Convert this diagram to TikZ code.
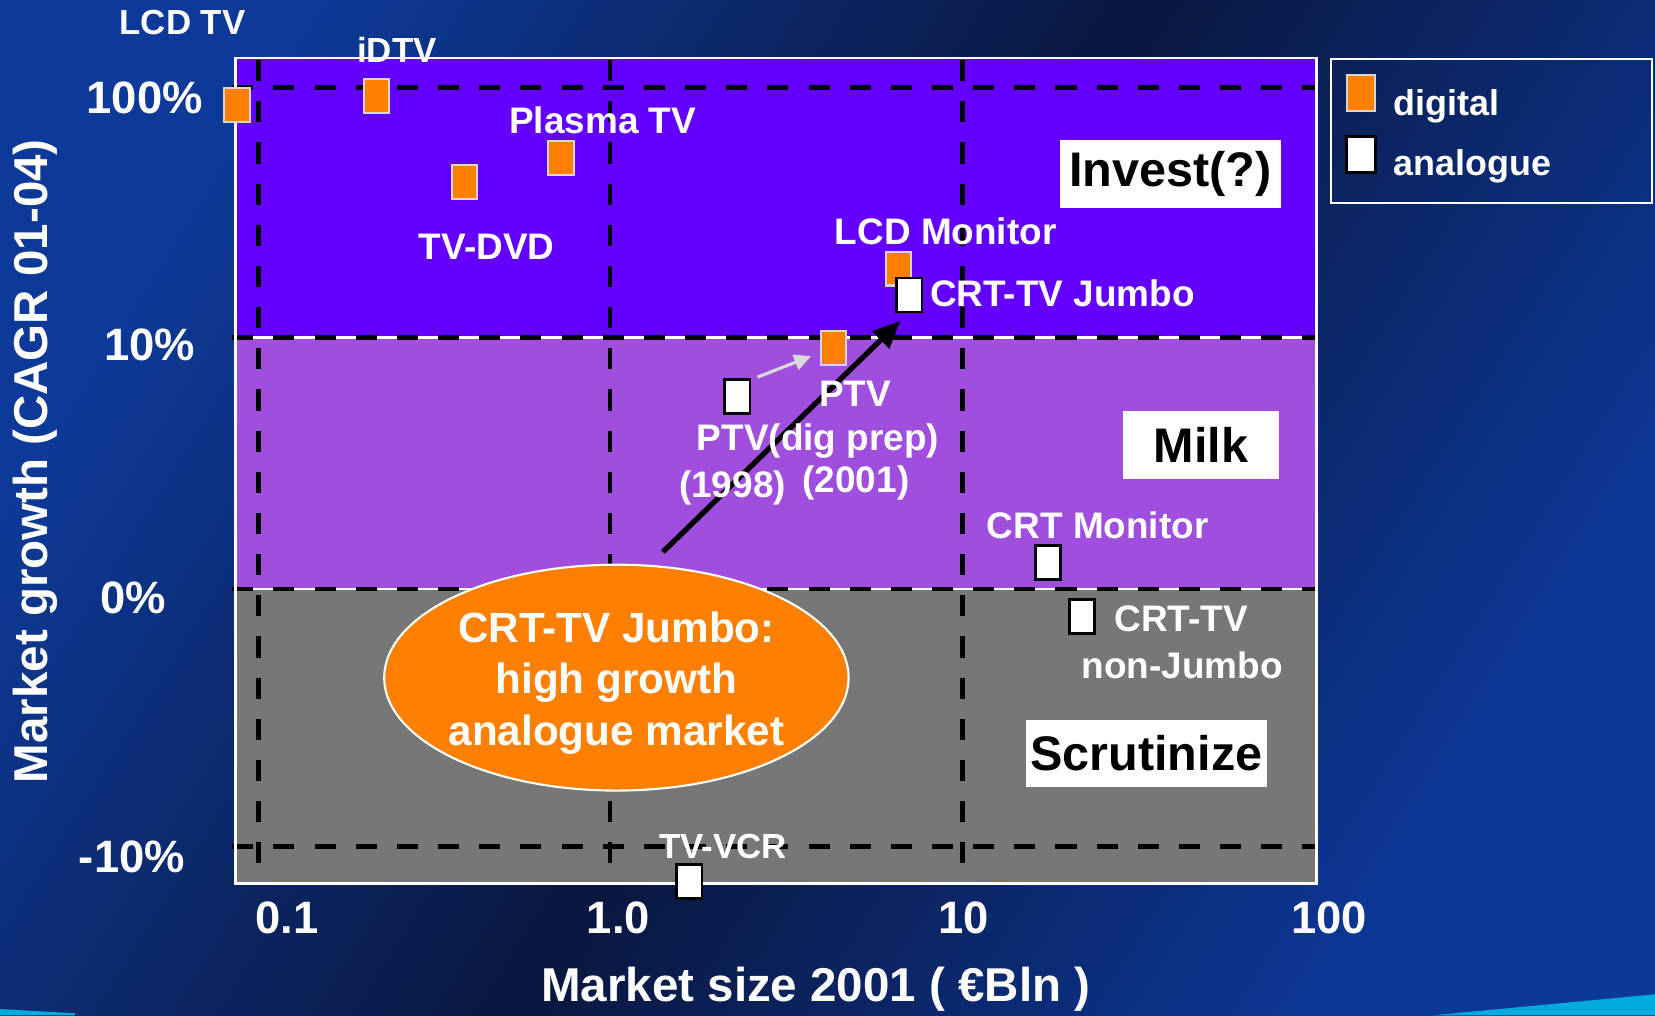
\documentclass[tikz,border=0pt]{standalone}
\usepackage{fontspec}
\setmainfont{Liberation Sans}
\usetikzlibrary{arrows.meta,calc,shapes.geometric}

\definecolor{investc}{HTML}{6300FF}
\definecolor{milkc}{HTML}{A04EDE}
\definecolor{scrutc}{HTML}{777777}
\definecolor{dorange}{HTML}{FF8000}
\definecolor{mborder}{HTML}{D6D6D6}
\definecolor{bgA}{HTML}{0D3A98}
\definecolor{bgB}{HTML}{0A173E}
\definecolor{bgC}{HTML}{0C3898}
\definecolor{cyanstripe}{HTML}{00AADD}
\definecolor{arrgrey}{HTML}{D8D8D8}

\tikzset{
 dig/.style={draw=mborder, line width=2pt, fill=dorange, minimum width=24pt, minimum height=32pt, inner sep=0pt},
 ana/.style={draw=black, line width=2.5pt, fill=white, minimum width=24pt, minimum height=32pt, inner sep=0pt},
 lbl/.style={text=white, font=\bfseries\fontsize{35}{40}\selectfont, inner sep=0pt},
 smalllbl/.style={text=white, font=\bfseries\fontsize{33}{38}\selectfont, inner sep=0pt},
 tick/.style={text=white, font=\bfseries\fontsize{43}{48}\selectfont, inner sep=0pt},
 axtitle/.style={text=white, font=\bfseries\fontsize{45}{50}\selectfont, inner sep=0pt},
 quadbox/.style={fill=white, text=black, font=\bfseries\fontsize{46}{50}\selectfont, inner sep=0pt},
 gridline/.style={black, line width=4.5pt, dash pattern=on 20pt off 19pt},
 legtext/.style={text=white, font=\bfseries\fontsize{34}{40}\selectfont, inner sep=0pt, anchor=west},
}

\begin{document}
\begin{tikzpicture}[x=1pt,y=-1pt]
\useasboundingbox (0,0) rectangle (1568,962);
% background
\begin{scope}
\clip (0,0) rectangle (1568,962);
\shade[left color=bgA, right color=bgC, middle color=bgB, shading angle=58] (0,0) rectangle (1568,962);
\end{scope}
\fill[cyanstripe] (1357,962) -- (1568,942) -- (1568,962) -- cycle;
\fill[cyanstripe] (0,956) -- (71,960) -- (71,962) -- (0,962) -- cycle;

% regions
\fill[investc] (223,55) rectangle (1247,320);
\fill[milkc] (223,320) rectangle (1247,558);
\fill[scrutc] (223,558) rectangle (1247,837);
\draw[white, line width=2.5pt] (223,320) -- (1247,320);
\draw[white, line width=2.5pt] (223,558) -- (1247,558);

% grid
\draw[gridline] (220,83) -- (1247,83);
\draw[gridline] (220,320) -- (1247,320);
\draw[gridline] (220,558) -- (1247,558);
\draw[gridline] (220,802) -- (1247,802);
\draw[gridline] (245,57) -- (245,837);
\draw[gridline] (578,57) -- (578,837);
\draw[gridline] (912,57) -- (912,837);

% border
\draw[white, line width=2.5pt] (223,55) rectangle (1247,837);

% axis ticks
\node[tick] (y100) at (137,93) {100\%};
\node[tick] (y10) at (142,327) {10\%};
\node[tick] (y0) at (126,566) {0\%};
\node[tick] (ym10) at (125,812) {-10\%};
\node[tick] (x01) at (272,870) {0.1};
\node[tick] (x1) at (586,870) {1.0};
\node[tick] (x10) at (913,870) {10};
\node[tick] (x100) at (1259,870) {100};
\node[axtitle] (xt) at (773,937) {Market size 2001 ( €Bln )};
\node[axtitle, rotate=90] (yt) at (33,437) {Market growth (CAGR 01-04)};

% arrow
\coordinate (arrS) at (628,523);
\coordinate (arrE) at (853,304);

% markers
\node[dig] (lcdtv) at (224.5,99.5) {};
\node[dig] (idtv) at (356.5,91) {};
\node[dig] (tvdvd) at (440,172.5) {};
\node[dig] (plasma) at (531.5,149.5) {};
\node[dig] (lcdmon) at (851,254.5) {};
\node[ana] (jumbo) at (861.5,279.5) {};
\node[dig] (ptv01) at (789.5,329.5) {};
\node[ana] (ptv98) at (698.5,375.5) {};
\node[ana] (crtmon) at (993,533) {};
\node[ana] (crttv) at (1025,584) {};
\node[ana] (tvvcr) at (653,835) {};

\draw[black, line width=5pt, -{Triangle[length=26pt,width=22pt]}] (arrS) -- (arrE);
\draw[arrgrey, line width=3pt, -{Triangle[length=16pt,width=15pt]}]
  ($(ptv98.north east)+(6,-1)$) -- ($(ptv01.west)+(-8,8)$);

% labels
\node[smalllbl] (lLCDTV) at (173,21) {LCD TV};
\node[smalllbl] (lIDTV) at (376,47) {iDTV};
\node[lbl] (lPlasma) at (571,114) {Plasma TV};
\node[lbl] (lDVD) at (461,234) {TV-DVD};
\node[lbl] (lLCDMon) at (896,219) {LCD Monitor};
\node[lbl, anchor=west] (lJumbo) at (881,278) {CRT-TV Jumbo};
\node[lbl] (lPTV) at (810,373) {PTV};
\node[lbl] (lPTVdig) at (775,418) {PTV(dig prep)};
\node[lbl] (l1998) at (694,462) {(1998)};
\node[lbl] (l2001) at (811,458) {(2001)};
\node[lbl] (lCRTMon) at (1040,498) {CRT Monitor};
\node[lbl] (lCRTTV) at (1119,586) {CRT-TV};
\node[lbl] (lNonJ) at (1120,630) {non-Jumbo};
\node[smalllbl] (lVCR) at (685,802) {TV-VCR};

% ellipse
\node[ellipse, fill=dorange, draw=white, line width=2pt, minimum width=440pt, minimum height=214pt,
      inner sep=0pt] (ell) at (584,642) {};
\node[text=white, align=center, inner sep=0pt, font=\bfseries\fontsize{40}{49}\selectfont] (elltext) at (584,647)
      {CRT-TV Jumbo:\\high growth\\analogue market};

% quadrant boxes
\node[quadbox, minimum width=210pt, minimum height=64pt] (invest) at (1109,165) {Invest(?)};
\node[quadbox, minimum width=148pt, minimum height=65pt] (milk) at (1138,421.5) {Milk};
\node[quadbox, minimum width=228pt, minimum height=64pt] (scrut) at (1086,714) {Scrutinize};

% legend
\draw[white, line width=2pt] (1261,56) rectangle (1565,192);
\node[dig, minimum width=27pt, minimum height=34pt] (legdig) at (1289.5,88) {};
\node[ana, minimum width=27pt, minimum height=34pt] (legana) at (1289.5,146.5) {};
\node[legtext] (legdigt) at (1320,101) {digital};
\node[legtext] (leganat) at (1320,158) {analogue};
\end{tikzpicture}
\end{document}
